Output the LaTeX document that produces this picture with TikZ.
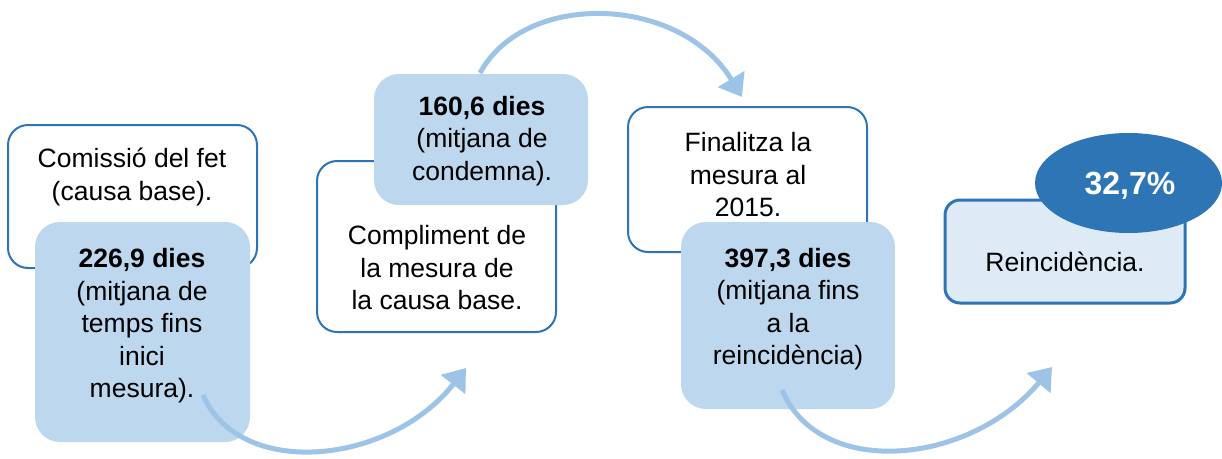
\documentclass[tikz,border=0pt]{standalone}
\usepackage{fontspec}
\setmainfont{Liberation Sans}
\usetikzlibrary{arrows.meta,shapes.geometric}
\definecolor{bord}{HTML}{2E75B6}
\definecolor{fillb}{HTML}{BDD7EE}
\definecolor{arr}{HTML}{9DC3E6}
\definecolor{pale}{HTML}{DEEBF7}
\begin{document}
\begin{tikzpicture}[x=1pt,y=-1pt,
  wbox/.style={draw=bord, line width=2pt, fill=white, rounded corners=20pt, inner sep=0pt},
  bbox/.style={fill=fillb, rounded corners=25pt, inner sep=0pt},
  rbox/.style={draw=bord, line width=3pt, fill=pale, rounded corners=15pt, inner sep=0pt},
  txt/.style={font=\fontsize{26.5}{32.5}\selectfont, align=center, inner sep=0pt},
  flow/.style={draw=arr, line width=5pt, -{Triangle[width=30pt,length=21pt]}}]
\useasboundingbox (0,0) rectangle (1222,458);
% step 1
\node[wbox, minimum width=249pt, minimum height=143pt] (b1) at (132.5,196.5) {};
\node[txt] (t1) at (132,177) {Comissió del fet\\(causa base).};
\node[bbox, minimum width=215pt, minimum height=220pt] (b2) at (142.5,332) {};
\node[txt] (t2) at (142,326) {\textbf{226,9 dies}\\(mitjana de\\temps fins\\inici\\mesura).};
% step 2
\node[wbox, minimum width=239pt, minimum height=171pt] (b3) at (436.5,246.5) {};
\node[txt] (t3) at (437,268) {Compliment de\\la mesura de\\la causa base.};
\node[bbox, minimum width=214pt, minimum height=131pt] (b4) at (481,139.5) {};
\node[txt] (t4) at (482,141) {\textbf{160,6 dies}\\(mitjana de\\condemna).};
% step 3
\node[wbox, minimum width=239pt, minimum height=145pt] (b5) at (747.5,179.5) {};
\node[txt] (t5) at (748,175) {Finalitza la\\mesura al\\2015.};
\node[bbox, minimum width=214pt, minimum height=187pt] (b6) at (788,315.5) {};
\node[txt] (t6) at (788,309) {\textbf{397,3 dies}\\(mitjana fins\\a la\\reincidència)};
% step 4
\node[rbox, minimum width=240pt, minimum height=103pt] (b7) at (1065,251.5) {};
\node[txt] (t7) at (1065,262) {Reincidència.};
\node[ellipse, fill=bord, minimum width=187pt, minimum height=100pt, inner sep=0pt] (e1) at (1128.5,183) {};
\node[txt, text=white, font=\fontsize{32}{36}\selectfont\bfseries] (t8) at (1130,186) {32,7\%};
% arrows
\coordinate (s1) at (203,395);
\coordinate (e1a) at (466,368);
\coordinate (s2) at (480,73);
\coordinate (e2a) at (742,97);
\coordinate (s3) at (782,390);
\coordinate (e3a) at (1052,367);
\draw[flow] (s1) .. controls (240,480) and (390,465) .. (e1a);
\draw[flow] (s2) .. controls (525,-10) and (680,-5) .. (e2a);
\draw[flow] (s3) .. controls (820,480) and (970,465) .. (e3a);
\end{tikzpicture}
\end{document}
